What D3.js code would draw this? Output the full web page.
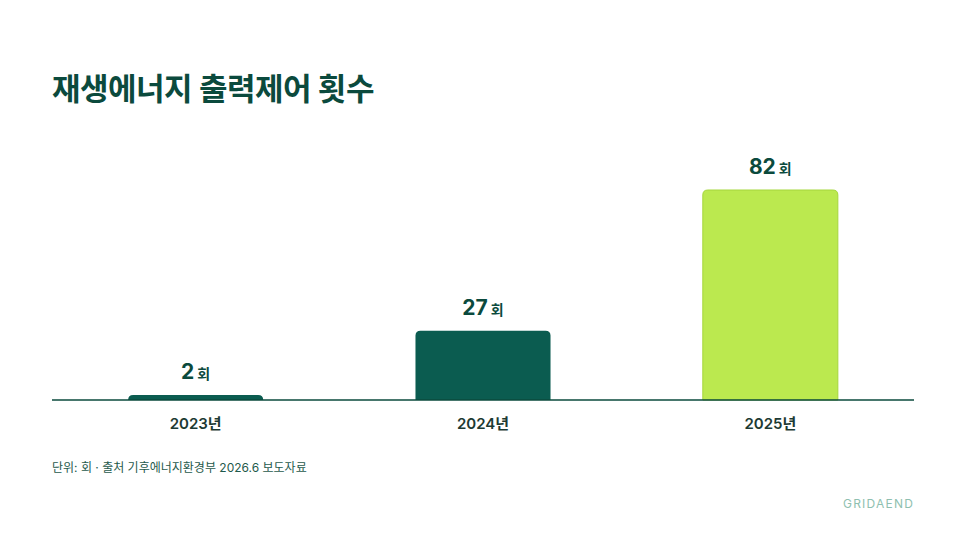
<!DOCTYPE html>
<html><head><meta charset="utf-8">
<script src="https://cdn.jsdelivr.net/npm/d3@7"></script>
<style>body{margin:0;background:#fff;font-family:Inter,"Noto Sans CJK KR",sans-serif;}</style>
</head><body>
<script>
var years = ["2023년", "2024년", "2025년"];
var counts = [2, 27, 82];
var colors = ["#0b5c50", "#0b5c50", "#bbe94f"];

var w = 966, h = 543;
var dark = "#0b4a3d";

var svg = d3.select("body").append("svg").attr("width", w).attr("height", h);

svg.append("text").attr("x", 52).attr("y", 100)
   .attr("font-size", 31).attr("font-weight", 700).attr("fill", dark)
   .attr("letter-spacing", -0.5)
   .text("재생에너지 출력제어 횟수");

var x = d3.scaleBand().domain(years).range([52, 914]).paddingInner(0.53).paddingOuter(0.265);
var y = d3.scaleLinear().domain([0, 82]).range([400, 190]);

//bars with rounded top corners only
function barPath(d, i) {
  var x0 = x(years[i]), x1 = x0 + x.bandwidth(), y0 = y(d), yb = y(0);
  var r = Math.min(5, yb - y0);
  return "M" + x0 + "," + yb + "V" + (y0 + r) + "Q" + x0 + "," + y0 + " " + (x0 + r) + "," + y0 +
         "H" + (x1 - r) + "Q" + x1 + "," + y0 + " " + x1 + "," + (y0 + r) + "V" + yb + "Z";
}
svg.selectAll("path.bar").data(counts).enter().append("path")
   .attr("class", "bar")
   .attr("d", barPath)
   .attr("fill", function(d, i) { return colors[i]; })
   .attr("stroke", function(d, i) { return i == 2 ? "#a5d63c" : "none"; });

var lab = svg.selectAll("text.val").data(counts).enter().append("text")
   .attr("class", "val")
   .attr("x", function(d, i) { return x(years[i]) + x.bandwidth() / 2; })
   .attr("y", function(d) { return y(d) - 16; })
   .attr("text-anchor", "middle").attr("fill", dark);
lab.append("tspan").attr("font-size", 21).attr("font-weight", 700).text(function(d) { return d; });
lab.append("tspan").attr("font-size", 14).attr("font-weight", 600).attr("dx", 3).text("회");

svg.append("line").attr("x1", 52).attr("x2", 914).attr("y1", 400).attr("y2", 400)
   .attr("stroke", dark).attr("stroke-width", 1.5);

svg.selectAll("text.yr").data(years).enter().append("text")
   .attr("x", function(d) { return x(d) + x.bandwidth() / 2; })
   .attr("y", 429).attr("text-anchor", "middle")
   .attr("font-size", 15).attr("font-weight", 600).attr("fill", "#1d3a33")
   .text(function(d) { return d; });

svg.append("text").attr("x", 52).attr("y", 472)
   .attr("font-size", 12).attr("fill", "#1f5a4c")
   .text("단위: 회 · 출처 기후에너지환경부 2026.6 보도자료");

svg.append("text").attr("x", 914).attr("y", 508).attr("text-anchor", "end")
   .attr("font-size", 12).attr("letter-spacing", 1.2).attr("fill", "#8fbfb0")
   .text("GRIDAEND");
</script>
</body></html>
